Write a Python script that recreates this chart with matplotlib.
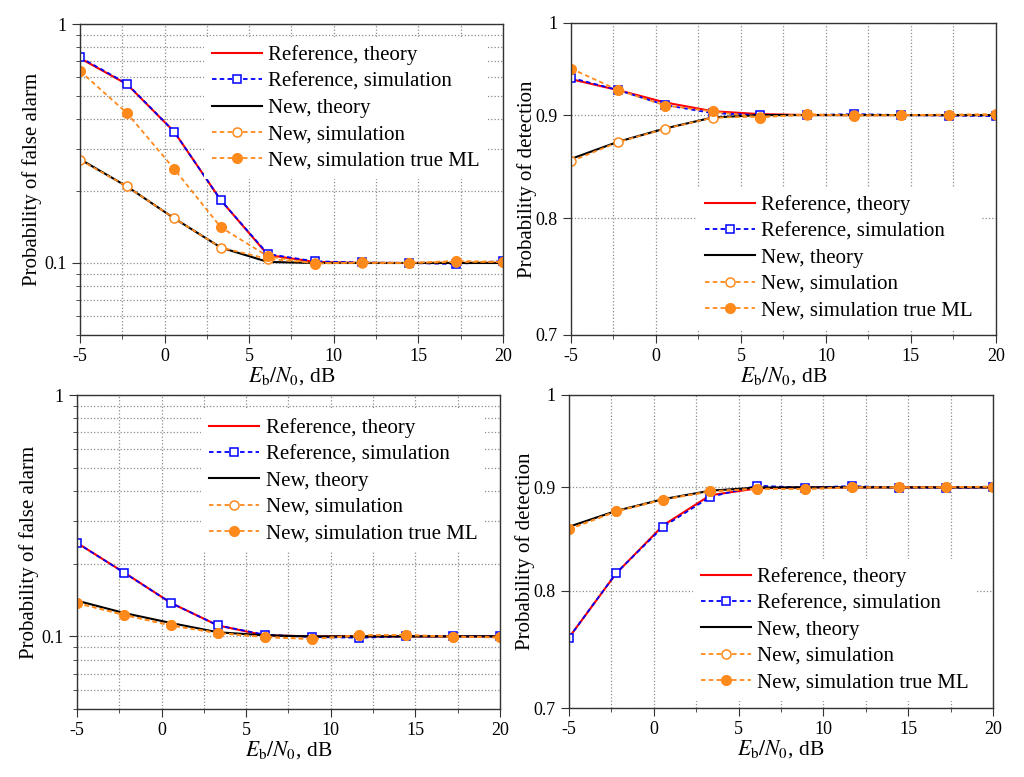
import matplotlib
matplotlib.use('Agg')
import matplotlib.pyplot as plt
import matplotlib.ticker as ticker

plt.rcParams['font.family'] = ['Liberation Serif', 'DejaVu Serif']
plt.rcParams['mathtext.fontset'] = 'stix'
plt.rcParams['axes.unicode_minus'] = False

# Eb/N0 points (dB)
ebn0 = [-5, -2.22, 0.56, 3.33, 6.11, 8.89, 11.67, 14.44, 17.22, 20]

# top-left: probability of false alarm
ref_th_a = [0.72, 0.56, 0.355, 0.183, 0.108, 0.101, 0.1, 0.1, 0.1, 0.1]
ref_sim_a = [0.726, 0.563, 0.355, 0.183, 0.109, 0.1016, 0.1005, 0.1, 0.099, 0.102]
new_th_a = [0.272, 0.209, 0.154, 0.116, 0.101, 0.1, 0.1, 0.1, 0.1, 0.1]
new_sim_a = [0.27, 0.209, 0.154, 0.116, 0.104, 0.1, 0.1, 0.1, 0.101, 0.101]
new_ml_a = [0.636, 0.424, 0.248, 0.141, 0.1066, 0.0994, 0.1005, 0.1, 0.102, 0.101]

# top-right: probability of detection
ref_th_b = [0.9377, 0.926, 0.913, 0.904, 0.901, 0.9, 0.9, 0.9, 0.9, 0.9]
ref_sim_b = [0.9392, 0.926, 0.9103, 0.902, 0.9, 0.9, 0.901, 0.9, 0.8995, 0.899]
new_th_b = [0.856, 0.873, 0.8864, 0.8975, 0.9, 0.9, 0.9, 0.9, 0.9, 0.9]
new_sim_b = [0.8536, 0.8727, 0.8861, 0.8973, 0.8985, 0.9, 0.9, 0.9, 0.9, 0.9]
new_ml_b = [0.9492, 0.926, 0.9099, 0.9038, 0.8975, 0.901, 0.8993, 0.9, 0.9005, 0.901]

# bottom-left: probability of false alarm
ref_th_c = [0.244, 0.184, 0.1375, 0.111, 0.101, 0.1, 0.1, 0.1, 0.1, 0.1]
ref_sim_c = [0.244, 0.1837, 0.1375, 0.111, 0.1016, 0.0994, 0.0987, 0.1, 0.1, 0.1]
new_th_c = [0.1406, 0.125, 0.1136, 0.104, 0.101, 0.1, 0.1, 0.1, 0.1, 0.1]
new_sim_c = [0.1375, 0.1228, 0.111, 0.1032, 0.0994, 0.0975, 0.101, 0.1013, 0.0997, 0.099]
new_ml_c = [0.1375, 0.1228, 0.111, 0.1032, 0.0994, 0.0975, 0.101, 0.1013, 0.0997, 0.099]

# bottom-right: probability of detection
ref_th_d = [0.7585, 0.816, 0.862, 0.892, 0.899, 0.9, 0.9, 0.9, 0.9, 0.9]
ref_sim_d = [0.7585, 0.8163, 0.8606, 0.8903, 0.9017, 0.8997, 0.9013, 0.8997, 0.8995, 0.9]
new_th_d = [0.8605, 0.8762, 0.888, 0.8966, 0.8998, 0.9, 0.9, 0.9, 0.9, 0.9]
new_sim_d = [0.8582, 0.8757, 0.8876, 0.8959, 0.8986, 0.8983, 0.9, 0.9, 0.9, 0.9008]
new_ml_d = [0.8582, 0.8757, 0.8876, 0.8959, 0.8986, 0.8983, 0.9, 0.9, 0.9, 0.9008]

labels = ['Reference, theory', 'Reference, simulation', 'New, theory',
          'New, simulation', 'New, simulation true ML']

ORANGE = '#ff8a1c'
GRID = '#8c8c8c'


def draw_panel(ax, series, kind, leg_anchor):
    ref_th, ref_sim, new_th, new_sim, new_ml = series
    ax.plot(ebn0, ref_th, color='red', lw=1.5, label=labels[0])
    ax.plot(ebn0, ref_sim, color='blue', lw=1.3, dashes=(2.5, 1.8), marker='s',
            ms=6, mfc='white', mec='blue', mew=1.1, label=labels[1])
    ax.plot(ebn0, new_th, color='black', lw=1.5, label=labels[2])
    ax.plot(ebn0, new_sim, color=ORANGE, lw=1.3, dashes=(2.5, 1.8), marker='o',
            ms=6.5, mfc='white', mec=ORANGE, mew=1.1, label=labels[3])
    ax.plot(ebn0, new_ml, color=ORANGE, lw=1.3, dashes=(2.5, 1.8), marker='o',
            ms=7, mfc=ORANGE, mec=ORANGE, label=labels[4])

    ax.set_yscale('log')
    ax.set_xlim(-5, 20)
    ax.xaxis.set_major_locator(ticker.MultipleLocator(5))
    ax.xaxis.set_minor_locator(ticker.MultipleLocator(2.5))

    if kind == 'pfa':
        ax.set_ylim(0.05, 1)
        ax.yaxis.set_major_locator(ticker.FixedLocator([0.1, 1]))
        ax.yaxis.set_major_formatter(ticker.FixedFormatter(['0.1', '1']))
        ax.yaxis.set_minor_locator(ticker.LogLocator(base=10, subs=range(2, 10)))
        ax.yaxis.set_minor_formatter(ticker.NullFormatter())
        ax.set_ylabel('Probability of false alarm', fontsize=15, labelpad=1.5)
        ax.grid(True, which='both', axis='both', color=GRID, ls=':', lw=0.9)
    else:
        ax.set_ylim(0.7, 1)
        ax.yaxis.set_major_locator(ticker.FixedLocator([0.7, 0.8, 0.9, 1]))
        ax.yaxis.set_major_formatter(ticker.FixedFormatter(['0.7', '0.8', '0.9', '1']))
        ax.yaxis.set_minor_locator(ticker.NullLocator())
        ax.set_ylabel('Probability of detection', fontsize=15, labelpad=-1)
        ax.grid(True, which='major', axis='y', color=GRID, ls=':', lw=0.9)
        ax.grid(True, which='both', axis='x', color=GRID, ls=':', lw=0.9)

    ax.set_xlabel(r'$E_{\mathrm{b}}/N_0$, dB', fontsize=15.5, labelpad=0)
    ax.tick_params(which='major', direction='out', length=6, labelsize=13, color='#333333')
    ax.tick_params(which='minor', direction='out', length=3, color='#333333')
    for sp in ax.spines.values():
        sp.set_color('#333333')
        sp.set_linewidth(1.0)

    leg = ax.legend(loc='upper left', bbox_to_anchor=leg_anchor, borderaxespad=0,
                    fontsize=15, frameon=True, fancybox=False, framealpha=1,
                    facecolor='white', edgecolor='none', handlelength=2.4,
                    handletextpad=0.3, labelspacing=0.32, borderpad=0.4)
    leg.set_zorder(5)


fig = plt.figure(figsize=(10.24, 7.77), dpi=100)
ax_a = fig.add_axes([0.0781, 0.569, 0.413, 0.400])
ax_b = fig.add_axes([0.5576, 0.569, 0.415, 0.4015])
ax_c = fig.add_axes([0.0752, 0.0875, 0.413, 0.404])
ax_d = fig.add_axes([0.5557, 0.0888, 0.414, 0.403])

draw_panel(ax_a, (ref_th_a, ref_sim_a, new_th_a, new_sim_a, new_ml_a), 'pfa', (0.293, 0.958))
draw_panel(ax_b, (ref_th_b, ref_sim_b, new_th_b, new_sim_b, new_ml_b), 'pd', (0.296, 0.474))
draw_panel(ax_c, (ref_th_c, ref_sim_c, new_th_c, new_sim_c, new_ml_c), 'pfa', (0.293, 0.953))
draw_panel(ax_d, (ref_th_d, ref_sim_d, new_th_d, new_sim_d, new_ml_d), 'pd', (0.292, 0.476))

fig.savefig('out.png', dpi=100)
